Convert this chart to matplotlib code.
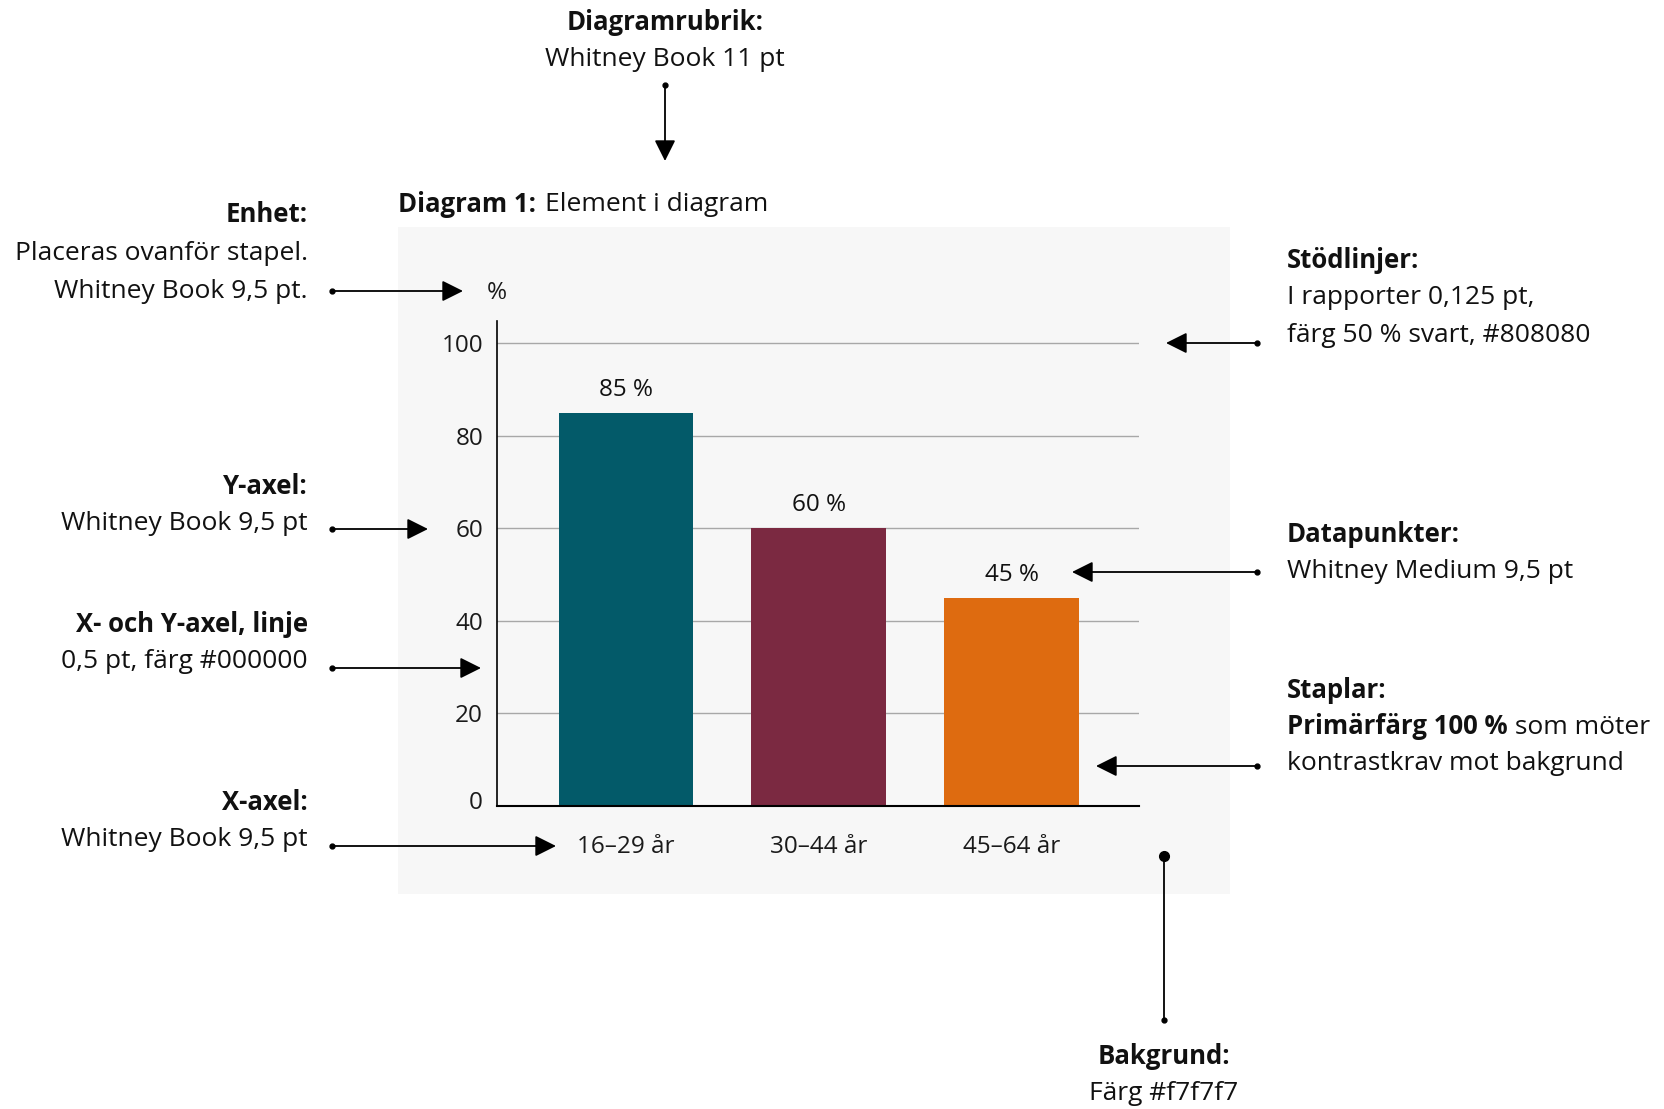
import matplotlib.pyplot as plt
import matplotlib.transforms as mtransforms
from matplotlib.patches import Rectangle, FancyArrowPatch
from matplotlib.lines import Line2D

plt.rcParams['font.family'] = ['Open Sans', 'DejaVu Sans']

categories = ['16–29 år', '30–44 år', '45–64 år']
values = [85, 60, 45]
bar_colors = ['#035A69', '#7B2941', '#DE6B10']
y_ticks = [0, 20, 40, 60, 80, 100]

W, H = 1665, 1109
fig = plt.figure(figsize=(W / 100, H / 100), dpi=100)
fig.patch.set_facecolor('white')


def fx(x):
    return x / W


def fy(y):
    # y mätt uppifrån i pixlar
    return 1 - y / H


# grå bakgrund
fig.add_artist(Rectangle((fx(398), fy(894)), fx(1230 - 398), (894 - 227) / H,
                         transform=fig.transFigure, facecolor='#f7f7f7',
                         edgecolor='none', zorder=0))

ax = fig.add_axes([fx(497), fy(806), fx(1139 - 497), (806 - 321) / H])
ax.patch.set_visible(False)
x = range(len(categories))
bars = ax.bar(x, values, width=0.70, color=bar_colors, zorder=3)
ax.set_xlim(-0.669, 2.661)
ax.set_ylim(0, 104.8)
ax.set_yticks(y_ticks)
ax.set_xticks(list(x))
ax.set_xticklabels(categories)
for t in y_ticks[1:]:
    ax.axhline(t, color='#a8a8a8', lw=1.0, zorder=1)
ax.tick_params(axis='both', length=0, labelsize=17.5, colors='#1a1a1a')
ax.tick_params(axis='y', pad=10)
ax.tick_params(axis='x', pad=21)
for s in ['top', 'right']:
    ax.spines[s].set_visible(False)
ax.spines['left'].set_linewidth(1.2)
ax.spines['bottom'].set_linewidth(1.5)
ax.spines['bottom'].set_zorder(4)
# nollan sitter lite högre i förlagan
lbl0 = ax.get_yticklabels()[0]
lbl0.set_transform(lbl0.get_transform() +
                   mtransforms.ScaledTranslation(0, 6 / 100, fig.dpi_scale_trans))
for b, v in zip(bars, values):
    ax.annotate(f'{v} %', (b.get_x() + b.get_width() / 2, v), xytext=(0, 8),
                textcoords='offset points', ha='center', va='bottom',
                fontsize=17.5, fontweight='medium', color='#111111')
fig.text(fx(497), fy(293), '%', fontsize=17.5, ha='center', va='center',
         color='#1a1a1a')

FS = 19
FSB = 18.5


def txt(x, y, s, ha='left', bold=False):
    fig.text(fx(x), fy(y + 2), s, fontsize=FSB if bold else FS, ha=ha,
             va='center', fontweight='bold' if bold else 'normal',
             color='#111111')


def arrow(x0, y0, x1, y1):
    fig.add_artist(FancyArrowPatch((fx(x0), fy(y0)), (fx(x1), fy(y1)),
                                   transform=fig.transFigure,
                                   arrowstyle='-|>,head_length=8,head_width=4',
                                   color='black', lw=1.3, mutation_scale=1.6,
                                   shrinkA=0, shrinkB=0))
    fig.add_artist(Line2D([fx(x0)], [fy(y0)], marker='o', ms=3.5,
                          color='black', transform=fig.transFigure))


# titel
txt(398, 202, 'Diagram 1:', bold=True)
txt(545, 202, 'Element i diagram')

txt(665, 21, 'Diagramrubrik:', ha='center', bold=True)
txt(665, 58, 'Whitney Book 11 pt', ha='center')
arrow(665, 85, 665, 161)

txt(308, 213, 'Enhet:', ha='right', bold=True)
txt(308, 252, 'Placeras ovanför stapel.', ha='right')
txt(308, 289, 'Whitney Book 9,5 pt.', ha='right')
arrow(332, 291, 463, 291)

txt(308, 484, 'Y-axel:', ha='right', bold=True)
txt(308, 521, 'Whitney Book 9,5 pt', ha='right')
arrow(332, 529, 428, 529)

txt(308, 622, 'X- och Y-axel, linje', ha='right', bold=True)
txt(308, 659, '0,5 pt, färg #000000', ha='right')
arrow(332, 668, 481, 668)

txt(308, 800, 'X-axel:', ha='right', bold=True)
txt(308, 837, 'Whitney Book 9,5 pt', ha='right')
arrow(332, 846, 556, 846)

txt(1287, 259, 'Stödlinjer:', bold=True)
txt(1287, 296, 'I rapporter 0,125 pt,')
txt(1287, 333, 'färg 50 % svart, #808080')
arrow(1257, 343, 1166, 343)

txt(1287, 532, 'Datapunkter:', bold=True)
txt(1287, 569, 'Whitney Medium 9,5 pt')
arrow(1257, 572, 1072, 572)

txt(1287, 688, 'Staplar:', bold=True)
t = fig.text(fx(1287), fy(727), 'Primärfärg 100 %', fontsize=FSB,
             fontweight='bold', ha='left', va='center', color='#111111')
ax.annotate(' som möter', xycoords=t, xy=(1, 0.5), ha='left', va='center',
            fontsize=FS, color='#111111', annotation_clip=False)
txt(1287, 762, 'kontrastkrav mot bakgrund')
arrow(1257, 766, 1096, 766)

fig.add_artist(Line2D([fx(1164), fx(1164)], [fy(856), fy(1020)], color='black',
                      lw=1.3, transform=fig.transFigure))
fig.add_artist(Line2D([fx(1164)], [fy(856)], marker='o', ms=7,
                      color='black', transform=fig.transFigure))
fig.add_artist(Line2D([fx(1164)], [fy(1020)], marker='o', ms=3.5,
                      color='black', transform=fig.transFigure))
txt(1164, 1055, 'Bakgrund:', ha='center', bold=True)
txt(1164, 1092, 'Färg #f7f7f7', ha='center')

fig.savefig('out.png', dpi=100)
